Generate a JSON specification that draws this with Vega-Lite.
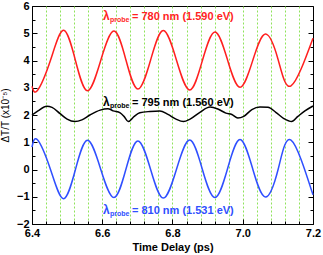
{
  "$schema": "https://vega.github.io/schema/vega-lite/v6.json",
  "width": 281,
  "height": 218,
  "autosize": {"type": "none"},
  "padding": {"left": 32, "top": 6, "right": 10, "bottom": 31},
  "background": "white",
  "config": {
    "view": {"stroke": "black", "strokeWidth": 1},
    "font": "Liberation Sans"
  },
  "datasets": {
    "curves": [
      {"series": "780", "t": 6.4, "v": 3.05},
      {"series": "780", "t": 6.4154, "v": 2.9},
      {"series": "780", "t": 6.4524, "v": 4.0},
      {"series": "780", "t": 6.4894, "v": 5.11},
      {"series": "780", "t": 6.5237, "v": 4.0},
      {"series": "780", "t": 6.558, "v": 2.89},
      {"series": "780", "t": 6.5956, "v": 4.0},
      {"series": "780", "t": 6.6332, "v": 5.08},
      {"series": "780", "t": 6.6674, "v": 4.02},
      {"series": "780", "t": 6.7015, "v": 2.95},
      {"series": "780", "t": 6.7377, "v": 4.02},
      {"series": "780", "t": 6.7738, "v": 5.1},
      {"series": "780", "t": 6.8114, "v": 4.01},
      {"series": "780", "t": 6.849, "v": 2.92},
      {"series": "780", "t": 6.8849, "v": 3.99},
      {"series": "780", "t": 6.9207, "v": 5.05},
      {"series": "780", "t": 6.9565, "v": 4.03},
      {"series": "780", "t": 6.9922, "v": 3.02},
      {"series": "780", "t": 7.0284, "v": 4.0},
      {"series": "780", "t": 7.0645, "v": 4.97},
      {"series": "780", "t": 7.101, "v": 4.02},
      {"series": "780", "t": 7.1374, "v": 3.07},
      {"series": "780", "t": 7.2, "v": 4.82},
      {"series": "810", "t": 6.4, "v": 0.82},
      {"series": "810", "t": 6.4154, "v": 1.09},
      {"series": "810", "t": 6.4524, "v": 0.01},
      {"series": "810", "t": 6.4894, "v": -1.07},
      {"series": "810", "t": 6.5237, "v": 0.0},
      {"series": "810", "t": 6.558, "v": 1.07},
      {"series": "810", "t": 6.5956, "v": 0.01},
      {"series": "810", "t": 6.6332, "v": -1.03},
      {"series": "810", "t": 6.6674, "v": 0.01},
      {"series": "810", "t": 6.7015, "v": 1.05},
      {"series": "810", "t": 6.7377, "v": 0.0},
      {"series": "810", "t": 6.7738, "v": -1.05},
      {"series": "810", "t": 6.8114, "v": 0.01},
      {"series": "810", "t": 6.849, "v": 1.08},
      {"series": "810", "t": 6.8849, "v": 0.01},
      {"series": "810", "t": 6.9207, "v": -1.03},
      {"series": "810", "t": 6.9565, "v": 0.02},
      {"series": "810", "t": 6.9922, "v": 1.1},
      {"series": "810", "t": 7.0284, "v": 0.02},
      {"series": "810", "t": 7.0645, "v": -1.01},
      {"series": "810", "t": 7.101, "v": 0.02},
      {"series": "810", "t": 7.1374, "v": 1.08},
      {"series": "810", "t": 7.2, "v": -0.93}
    ],
    "black": [
      {"t": 6.4, "v": 2.0},
      {"t": 6.417, "v": 2.15},
      {"t": 6.442, "v": 2.32},
      {"t": 6.457, "v": 2.28},
      {"t": 6.48, "v": 2.05},
      {"t": 6.5, "v": 1.85},
      {"t": 6.522, "v": 1.76},
      {"t": 6.542, "v": 1.82},
      {"t": 6.565, "v": 2.0},
      {"t": 6.594, "v": 2.18},
      {"t": 6.616, "v": 2.23},
      {"t": 6.631, "v": 2.15},
      {"t": 6.651, "v": 2.08},
      {"t": 6.662, "v": 1.95},
      {"t": 6.674, "v": 1.76},
      {"t": 6.691, "v": 1.95},
      {"t": 6.707, "v": 2.08},
      {"t": 6.736, "v": 2.13},
      {"t": 6.764, "v": 2.15},
      {"t": 6.787, "v": 2.02},
      {"t": 6.81, "v": 1.85},
      {"t": 6.831, "v": 1.76},
      {"t": 6.85, "v": 1.85},
      {"t": 6.878, "v": 2.1},
      {"t": 6.907, "v": 2.29},
      {"t": 6.929, "v": 2.22},
      {"t": 6.952, "v": 2.07},
      {"t": 6.969, "v": 2.02},
      {"t": 6.986, "v": 1.89},
      {"t": 7.003, "v": 1.95},
      {"t": 7.026, "v": 2.2},
      {"t": 7.049, "v": 2.29},
      {"t": 7.072, "v": 2.28},
      {"t": 7.094, "v": 2.1},
      {"t": 7.117, "v": 1.87},
      {"t": 7.139, "v": 1.76},
      {"t": 7.157, "v": 1.95},
      {"t": 7.177, "v": 2.15},
      {"t": 7.2, "v": 2.33}
    ],
    "labels": [
      {"series": "780", "t": 6.602, "v": 5.49, "lam": "λ", "sub": "probe", "rest": "= 780 nm (1.590 eV)"},
      {"series": "795", "t": 6.602, "v": 2.34, "lam": "λ", "sub": "probe", "rest": "= 795 nm (1.560 eV)"},
      {"series": "810", "t": 6.602, "v": -1.63, "lam": "λ", "sub": "probe", "rest": "= 810 nm (1.531 eV)"}
    ]
  },
  "encoding": {
    "x": {
      "field": "t",
      "type": "quantitative",
      "scale": {"domain": [6.4, 7.2], "nice": false, "zero": false},
      "axis": {
        "title": "Time Delay (ps)",
        "titleFont": "Liberation Sans",
        "titleFontSize": 11,
        "titleFontWeight": "bold",
        "titleColor": "black",
        "titlePadding": 1,
        "values": [6.4, 6.44, 6.48, 6.52, 6.56, 6.6, 6.64, 6.68, 6.72, 6.76, 6.8, 6.84, 6.88, 6.92, 6.96, 7.0, 7.04, 7.08, 7.12, 7.16, 7.2],
        "labelExpr": "abs(datum.value*5 - round(datum.value*5)) < 0.001 ? format(datum.value, '.1f') : ''",
        "labelFont": "Liberation Sans",
        "labelFontSize": 11,
        "labelFontWeight": "bold",
        "labelColor": "black",
        "labelPadding": 8,
        "labelFlush": false,
        "labelOverlap": false,
        "domainColor": "black",
        "domainWidth": 1,
        "tickColor": "black",
        "tickWidth": 1,
        "tickSize": {"condition": {"test": "abs(datum.value*5 - round(datum.value*5)) < 0.001", "value": -5}, "value": -3},
        "grid": true,
        "gridColor": "#8fe35a",
        "gridDash": [2, 2],
        "gridWidth": 1,
        "gridOpacity": {"condition": {"test": "datum.value < 6.41 || datum.value > 7.19", "value": 0}, "value": 1}
      }
    }
  },
  "layer": [
    {
      "data": {"name": "curves"},
      "mark": {"type": "line", "interpolate": "natural", "strokeWidth": 1.5},
      "encoding": {
        "y": {
          "field": "v",
          "type": "quantitative",
          "scale": {"domain": [-2, 6], "nice": false, "zero": false},
          "axis": {
            "title": "ΔT/T (x10⁻⁵)",
            "titleFont": "Liberation Sans",
            "titleFontSize": 10,
            "titleFontWeight": "normal",
            "titleColor": "black",
            "titlePadding": 6,
            "values": [-2, -1.5, -1, -0.5, 0, 0.5, 1, 1.5, 2, 2.5, 3, 3.5, 4, 4.5, 5, 5.5, 6],
            "labelExpr": "abs(datum.value - round(datum.value)) < 0.001 ? format(datum.value, 'd') : ''",
            "labelFont": "Liberation Sans",
            "labelFontSize": 11,
            "labelFontWeight": "bold",
            "labelColor": "black",
            "labelPadding": 8,
            "labelFlush": false,
            "labelOverlap": false,
            "domainColor": "black",
            "tickColor": "black",
            "tickSize": {"condition": {"test": "abs(datum.value - round(datum.value)) < 0.001", "value": -5}, "value": -3},
            "grid": false
          }
        },
        "color": {
          "field": "series",
          "type": "nominal",
          "scale": {"domain": ["780", "795", "810"], "range": ["#ff1f1f", "#000000", "#2f4fff"]},
          "legend": null
        },
        "detail": {"field": "series"}
      }
    },
    {
      "data": {"name": "black"},
      "mark": {"type": "line", "interpolate": "monotone", "strokeWidth": 1.5, "color": "black"},
      "encoding": {
        "y": {
          "field": "v",
          "type": "quantitative",
          "axis": {
            "orient": "right",
            "title": null,
            "labels": false,
            "domain": false,
            "grid": false,
            "values": [-2, -1.5, -1, -0.5, 0, 0.5, 1, 1.5, 2, 2.5, 3, 3.5, 4, 4.5, 5, 5.5, 6],
            "tickColor": "black",
            "tickSize": {"condition": {"test": "abs(datum.value - round(datum.value)) < 0.001", "value": -5}, "value": -3}
          }
        }
      }
    },
    {
      "data": {"name": "labels"},
      "mark": {"type": "text", "align": "left", "baseline": "alphabetic", "font": "Liberation Sans", "fontSize": 12, "fontWeight": "bold"},
      "encoding": {
        "y": {"field": "v", "type": "quantitative", "axis": null},
        "text": {"field": "lam"},
        "color": {"field": "series", "type": "nominal", "scale": {"domain": ["780", "795", "810"], "range": ["#ff1f1f", "#000000", "#2f4fff"]}, "legend": null}
      }
    },
    {
      "data": {"name": "labels"},
      "mark": {"type": "text", "align": "left", "baseline": "alphabetic", "font": "Liberation Sans", "fontSize": 7, "fontWeight": "bold", "dx": 7, "dy": 2.5},
      "encoding": {
        "y": {"field": "v", "type": "quantitative", "axis": null},
        "text": {"field": "sub"},
        "color": {"field": "series", "type": "nominal", "scale": {"domain": ["780", "795", "810"], "range": ["#ff1f1f", "#000000", "#2f4fff"]}, "legend": null}
      }
    },
    {
      "data": {"name": "labels"},
      "mark": {"type": "text", "align": "left", "baseline": "alphabetic", "font": "Liberation Sans", "fontSize": 11, "fontWeight": "bold", "dx": 29},
      "encoding": {
        "y": {"field": "v", "type": "quantitative", "axis": null},
        "text": {"field": "rest"},
        "color": {"field": "series", "type": "nominal", "scale": {"domain": ["780", "795", "810"], "range": ["#ff1f1f", "#000000", "#2f4fff"]}, "legend": null}
      }
    }
  ],
  "resolve": {"axis": {"y": "independent"}}
}
